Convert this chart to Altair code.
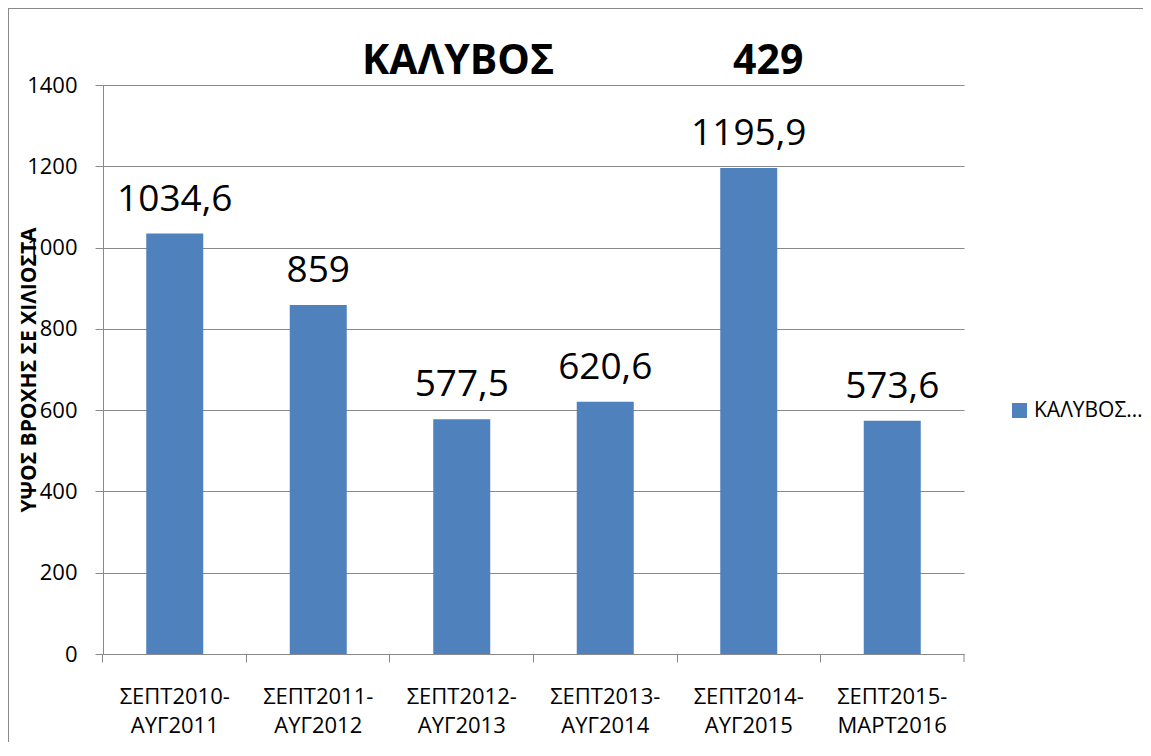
import altair as alt
import pandas as pd

categories = ["ΣΕΠΤ2010-\nΑΥΓ2011", "ΣΕΠΤ2011-\nΑΥΓ2012", "ΣΕΠΤ2012-\nΑΥΓ2013",
              "ΣΕΠΤ2013-\nΑΥΓ2014", "ΣΕΠΤ2014-\nΑΥΓ2015", "ΣΕΠΤ2015-\nΜΑΡΤ2016"]
values = [1034.6, 859, 577.5, 620.6, 1195.9, 573.6]
series_name = "ΚΑΛΥΒΟΣ 429"
y_ticks = [0, 200, 400, 600, 800, 1000, 1200, 1400]
title_left = "ΚΑΛΥΒΟΣ"
title_right = "429"
y_title = "ΥΨΟΣ ΒΡΟΧΗΣ ΣΕ ΧΙΛΙΟΣΤΑ"

W, H = 861, 569
PAD = {"left": 95, "top": 77, "right": 179, "bottom": 88}
GRAY = "#898989"
FONT = "Open Sans"

df = pd.DataFrame({"cat": categories, "value": values, "series": [series_name] * len(values)})

x_enc = alt.X("cat:N", sort=None,
              scale=alt.Scale(paddingInner=0.6, paddingOuter=0.3),
              axis=alt.Axis(title=None, labelAngle=0, labelFontSize=22, labelColor="black",
                            labelExpr="split(datum.label, '\\n')", labelLineHeight=29,
                            labelPadding=24, tickSize=8, tickColor=GRAY, domainColor=GRAY,
                            bandPosition=-0.75, grid=False, labelBaseline="top"))
y_enc = alt.Y("value:Q",
              scale=alt.Scale(domain=[0, 1400], nice=False, zero=True),
              axis=alt.Axis(values=y_ticks, format="d", title=y_title, titleFontSize=21,
                            titleFontWeight="bold",
                            titleColor="black", titleX=-74, titleY=H / 2, titleAngle=270,
                            titleAlign="center", titleBaseline="middle",
                            labelFontSize=22, labelColor="black", labelPadding=18,
                            tickSize=8, tickColor=GRAY, domainColor=GRAY,
                            grid=True, gridColor=GRAY, gridWidth=1))

bars = alt.Chart(df).mark_bar(size=57).encode(
    x=x_enc, y=y_enc,
    color=alt.Color("series:N", scale=alt.Scale(range=["#4F81BD"]),
                    legend=alt.Legend(orient="none", legendX=906, legendY=315, title=None,
                                      symbolType="square", symbolSize=225, symbolStrokeWidth=0,
                                      labelFontSize=21, labelLimit=112, labelColor="black",
                                      padding=0))
)

labels = alt.Chart(df).transform_calculate(
    lbl="replace(toString(datum.value), '.', ',')"
).mark_text(fontSize=37, baseline="alphabetic", dy=-23, color="black").encode(
    x=alt.X("cat:N", sort=None), y="value:Q", text="lbl:N"
)

frame_data = alt.Data(values=[{"k": 1}])
left_border = alt.Chart(frame_data).mark_rule(color=GRAY, strokeWidth=2).encode(
    x=alt.value(-95), y=alt.value(-77), y2=alt.value(H + PAD["bottom"]))
top_border = alt.Chart(frame_data).mark_rule(color=GRAY, strokeWidth=2).encode(
    x=alt.value(-95), x2=alt.value(W + PAD["right"]), y=alt.value(-77))
end_tick = alt.Chart(frame_data).mark_rule(color=GRAY, strokeWidth=1).encode(
    x=alt.value(W), y=alt.value(H), y2=alt.value(H + 8))

title_a = alt.Chart(frame_data).mark_text(
    fontSize=41, fontWeight="bold", color="black", align="left", baseline="alphabetic"
).encode(x=alt.value(259), y=alt.value(-11), text=alt.value(title_left))
title_b = alt.Chart(frame_data).mark_text(
    fontSize=41, fontWeight="bold", color="black", align="left", baseline="alphabetic"
).encode(x=alt.value(630), y=alt.value(-11), text=alt.value(title_right))

chart = alt.layer(bars, labels, left_border, top_border, end_tick, title_a, title_b).properties(
    width=W, height=H,
    autosize=alt.AutoSizeParams(type="none"),
    padding=PAD,
).configure(font=FONT).configure_view(stroke=None).configure_axis(labelFont=FONT, titleFont=FONT)

chart.save("out.html", embed_options={"renderer": "svg", "actions": False})
